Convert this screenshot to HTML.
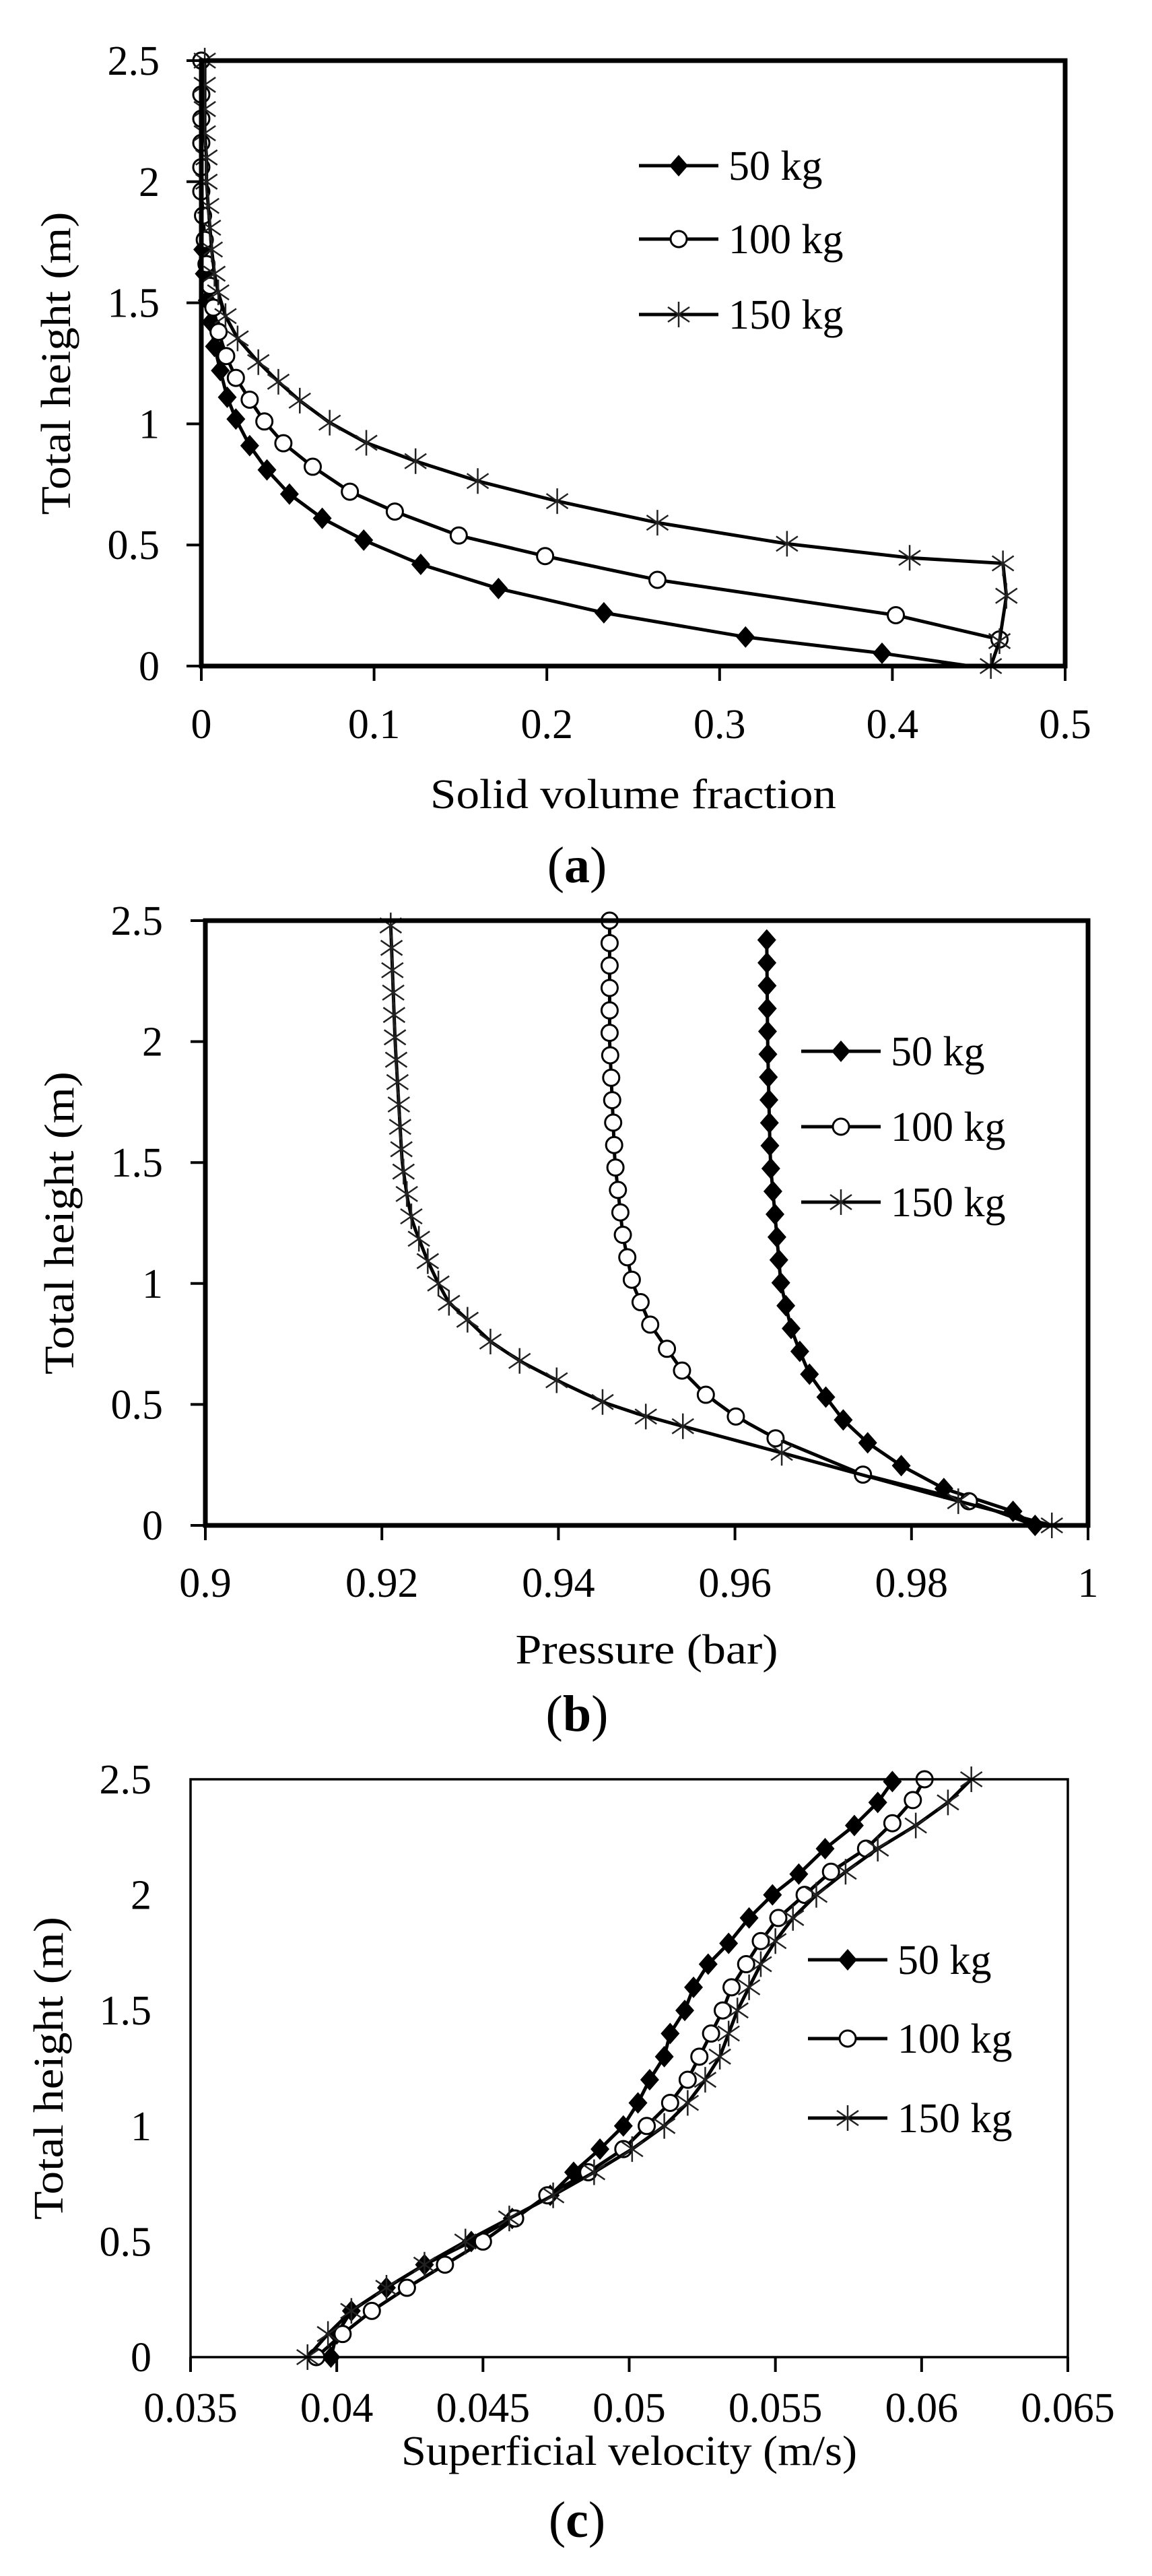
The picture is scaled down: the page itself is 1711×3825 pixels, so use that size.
<!DOCTYPE html>
<html><head><meta charset="utf-8"><style>
html,body{margin:0;padding:0;background:#fff;}
svg{display:block;font-family:"Liberation Serif",serif;}
</style></head><body>
<svg id="s" xmlns="http://www.w3.org/2000/svg" width="1711" height="3825" viewBox="0 0 1711 3825"></svg>
<script>
const NS="http://www.w3.org/2000/svg";const S=document.getElementById('s');
function el(t,a,txt){const e=document.createElementNS(NS,t);for(const k in a)e.setAttribute(k,a[k]);if(txt!==undefined)e.textContent=txt;S.appendChild(e);return e;}
function interp(cp,h){cp=cp.slice().sort((a,b)=>a[1]-b[1]);if(h<=cp[0][1])return cp[0][0];for(let i=1;i<cp.length;i++){if(h<=cp[i][1]){const a=cp[i-1],b=cp[i];return a[0]+(b[0]-a[0])*(h-a[1])/(b[1]-a[1]);}}return cp[cp.length-1][0];}
function marker(type,x,y){
 if(type==='d')el('polygon',{points:`${x},${y-16} ${x+14},${y} ${x},${y+16} ${x-14},${y}`,fill:'#000'});
 else if(type==='o')el('circle',{cx:x,cy:y,r:12,fill:'#fff',stroke:'#000','stroke-width':3});
 else {const r=19;el('path',{d:`M${x},${y-r}L${x},${y+r}M${x-16},${y-11}L${x+16},${y+11}M${x-16},${y+11}L${x+16},${y-11}`,stroke:'#222','stroke-width':2.5,fill:'none'});}
}
function chart(c){
 const X=v=>c.L+(v-c.x0)/(c.x1-c.x0)*(c.R-c.L), Y=v=>c.B-(v/2.5)*(c.B-c.T);
 c.series.forEach(s=>{
  const pts=s.pts.map(p=>[X(p[0]),Y(p[1])]);
  el('polyline',{points:pts.map(p=>p.join(',')).join(' '),fill:'none',stroke:'#000','stroke-width':c.lw,'stroke-linejoin':'round'});
  (s.mk||s.pts).forEach(p=>marker(s.t,X(p[0]),Y(p[1])));
 });
 el('rect',{x:c.L,y:c.T,width:c.R-c.L,height:c.B-c.T,fill:'none',stroke:'#000','stroke-width':c.fw});
 c.xt.forEach((t,i)=>{const x=X(t);el('line',{x1:x,y1:c.B,x2:x,y2:c.B+22,stroke:'#000','stroke-width':4});
  el('text',{x:x,y:c.xly,'font-size':62,'text-anchor':'middle'},c.xl[i]);});
 ['0','0.5','1','1.5','2','2.5'].forEach((l,i)=>{const y=Y(i*0.5);if(c.yt)el('line',{x1:c.L-22,y1:y,x2:c.L,y2:y,stroke:'#000','stroke-width':4});
  el('text',{x:c.L-c.yg,y:y+21,'font-size':62,'text-anchor':'end'},l);});
 el('text',{x:(c.L+c.R)/2,y:c.tty,'font-size':62,'text-anchor':'middle',textLength:c.ttw,lengthAdjust:'spacingAndGlyphs'},c.title);
 const cy=(c.T+c.B)/2;
 el('text',{x:c.ytx,y:cy,'font-size':62,'text-anchor':'middle',transform:`rotate(-90 ${c.ytx} ${cy})`,textLength:450,lengthAdjust:'spacingAndGlyphs'},'Total height  (m)');
 const t=el('text',{x:857,y:c.capy,'font-size':76,'text-anchor':'middle'});
 t.innerHTML='(<tspan font-weight="bold">'+c.cap+'</tspan>)';
 ['50 kg','100 kg','150 kg'].forEach((l,i)=>{const y=c.lgy[i];
  el('line',{x1:c.lgx,y1:y,x2:c.lgx+118,y2:y,stroke:'#000','stroke-width':5});
  marker(['d','o','s'][i],c.lgx+59,y);
  el('text',{x:c.lgx+133,y:y+21,'font-size':62},l);});
}
function gen(cp,hs){return hs.map(h=>[interp(cp,h),h]);}
function range(a,b,n){const r=[];for(let i=0;i<n;i++)r.push(a+(b-a)*i/(n-1));return r;}

const a50=[[0.445,0],[0.394,0.053],[0.315,0.12],[0.233,0.22],[0.172,0.32],[0.127,0.42],[0.094,0.52],[0.070,0.61],[0.051,0.71],[0.038,0.81],[0.028,0.91],[0.020,1.02],[0.015,1.11],[0.011,1.22],[0.0076,1.32],[0.0055,1.42],[0.0034,1.51],[0.0017,1.62],[0.0008,1.72],[0.0004,1.82],[0,1.95],[0,2.5]];
const a100=[[0.462,0.11],[0.402,0.21],[0.264,0.356],[0.199,0.454],[0.149,0.539],[0.112,0.638],[0.086,0.72],[0.0645,0.823],[0.0475,0.92],[0.0365,1.01],[0.028,1.10],[0.020,1.19],[0.0144,1.28],[0.010,1.38],[0.007,1.48],[0.005,1.57],[0.003,1.66],[0.002,1.76],[0.001,1.86],[0,1.96],[0,2.06],[0,2.16],[0,2.26],[0,2.36],[0,2.5]];
const a150=[[0.457,0],[0.462,0.103],[0.466,0.29],[0.464,0.424],[0.41,0.447],[0.339,0.505],[0.264,0.592],[0.206,0.681],[0.160,0.764],[0.124,0.846],[0.0955,0.922],[0.0743,1.005],[0.057,1.096],[0.0446,1.174],[0.033,1.255],[0.021,1.353],[0.014,1.445],[0.0098,1.543],[0.0076,1.62],[0.006,1.72],[0.005,1.81],[0.004,1.9],[0.003,2.0],[0.003,2.1],[0.002,2.2],[0.002,2.3],[0.002,2.4],[0.002,2.5]];
chart({L:299,R:1582,T:90,B:989,x0:0,x1:0.5,lw:5,fw:7,yt:true,yg:62,
 xt:[0,0.1,0.2,0.3,0.4,0.5],xl:['0','0.1','0.2','0.3','0.4','0.5'],xly:1096,
 title:'Solid volume  fraction',tty:1200,ttw:603,ytx:104,cap:'a',capy:1310,lgx:949,lgy:[246,355,467],
 series:[{t:'d',pts:a50,mk:a50.slice(1,19)},{t:'o',pts:a100},{t:'s',pts:a150}]});

const b50cp=[[0.994,0],[0.9915,0.058],[0.9857,0.115],[0.980,0.22],[0.9757,0.32],[0.9726,0.42],[0.9705,0.52],[0.9685,0.62],[0.9674,0.714],[0.9663,0.82],[0.9652,1.0],[0.9645,1.3],[0.964,1.5],[0.9637,2.0],[0.9636,2.42]];
const b100cp=[[0.994,0],[0.9865,0.1],[0.9745,0.21],[0.9646,0.36],[0.9601,0.45],[0.9567,0.54],[0.954,0.64],[0.9504,0.83],[0.9484,1.0],[0.9473,1.2],[0.9464,1.5],[0.9458,2.0],[0.9458,2.5]];
const b150cp=[[0.9959,0],[0.9853,0.1],[0.9653,0.3],[0.9541,0.41],[0.9499,0.45],[0.945,0.51],[0.9398,0.6],[0.9356,0.68],[0.9323,0.76],[0.9297,0.85],[0.9276,0.92],[0.9264,1.0],[0.9251,1.1],[0.9235,1.25],[0.9229,1.35],[0.9223,1.5],[0.9215,2.0],[0.921,2.48]];
const hb50=range(0.058,2.42,26);
const hb100=range(0.83,2.5,19).concat([0.1,0.21,0.36,0.45,0.54,0.64,0.73]);
const hb150=range(1.0,2.48,17).concat([0,0.1,0.3,0.41,0.45,0.51,0.6,0.68,0.76,0.85,0.92]);
chart({L:305,R:1616,T:1367,B:2265,x0:0.9,x1:1.0,lw:5,fw:7,yt:true,yg:63,
 xt:[0.9,0.92,0.94,0.96,0.98,1.0],xl:['0.9','0.92','0.94','0.96','0.98','1'],xly:2371,
 title:'Pressure (bar)',tty:2470,ttw:390,ytx:109,cap:'b',capy:2570,lgx:1190,lgy:[1561,1673,1785],
 series:[{t:'d',pts:gen(b50cp,[0].concat(hb50))},{t:'o',pts:gen(b100cp,range(0,2.5,60)),mk:gen(b100cp,hb100)},{t:'s',pts:gen(b150cp,range(0,2.48,60)),mk:gen(b150cp,hb150)}]});

const c50=[[0.0398,0],[0.0400,0.1],[0.0405,0.2],[0.0417,0.3],[0.043,0.4],[0.0446,0.5],[0.046,0.6],[0.0473,0.7],[0.0481,0.8],[0.049,0.9],[0.0498,1.0],[0.0503,1.1],[0.0507,1.2],[0.0512,1.3],[0.0514,1.4],[0.0519,1.5],[0.0522,1.6],[0.0527,1.7],[0.0534,1.79],[0.0541,1.9],[0.0549,2.0],[0.0558,2.09],[0.0567,2.2],[0.0577,2.3],[0.0585,2.4],[0.059,2.49]];
const c100=[[0.0393,0],[0.0402,0.1],[0.0412,0.2],[0.0424,0.3],[0.0437,0.4],[0.045,0.5],[0.0461,0.6],[0.0472,0.7],[0.0486,0.8],[0.0498,0.9],[0.0506,1.0],[0.0514,1.1],[0.052,1.2],[0.0524,1.3],[0.0528,1.4],[0.0532,1.5],[0.0535,1.6],[0.054,1.7],[0.0545,1.8],[0.0551,1.9],[0.056,2.0],[0.0569,2.1],[0.0581,2.2],[0.059,2.31],[0.0597,2.41],[0.0601,2.5]];
const c150=[[0.039,0],[0.0397,0.1],[0.0405,0.2],[0.0417,0.3],[0.043,0.4],[0.0444,0.5],[0.0459,0.6],[0.0474,0.7],[0.0488,0.8],[0.0501,0.9],[0.0512,1.0],[0.052,1.1],[0.0526,1.2],[0.0531,1.3],[0.0534,1.4],[0.0537,1.5],[0.0541,1.6],[0.0545,1.7],[0.055,1.8],[0.0556,1.9],[0.0564,2.0],[0.0574,2.1],[0.0585,2.2],[0.0598,2.3],[0.0609,2.4],[0.0617,2.5]];
chart({L:283,R:1586,T:2642,B:3500,x0:0.035,x1:0.065,lw:5,fw:3.5,yt:false,yg:58,
 xt:[0.035,0.04,0.045,0.05,0.055,0.06,0.065],xl:['0.035','0.04','0.045','0.05','0.055','0.06','0.065'],xly:3596,
 title:'Superficial  velocity  (m/s)',tty:3660,ttw:677,ytx:93,cap:'c',capy:3767,lgx:1200,lgy:[2910,3027,3145],
 series:[{t:'d',pts:c50},{t:'o',pts:c100},{t:'s',pts:c150}]});
</script>
</body></html>
